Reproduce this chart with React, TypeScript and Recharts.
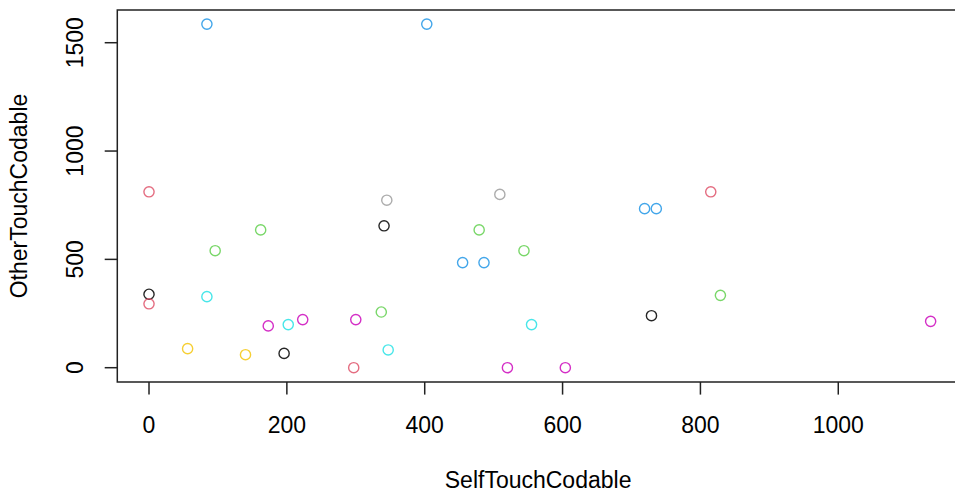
import React from "react";
import { ScatterChart, Scatter, XAxis, YAxis, ReferenceArea, Label } from "recharts";

// Points grouped by colour (R default palette)
const blueX = [84, 403, 455, 486, 719, 736];
const blueY = [1586, 1586, 485, 485, 734, 734];
const redX = [0, 815, 0, 297];
const redY = [812, 812, 295, 0];
const grayX = [345, 509];
const grayY = [773, 800];
const blackX = [341, 0, 196, 729];
const blackY = [655, 339, 66, 240];
const greenX = [162, 96, 337, 479, 544, 829];
const greenY = [636, 540, 257, 636, 540, 334];
const cyanX = [84, 202, 347, 555];
const cyanY = [328, 199, 82, 199];
const magentaX = [173, 223, 300, 1134, 520, 604];
const magentaY = [193, 222, 222, 214, 0, 0];
const yellowX = [56, 140];
const yellowY = [88, 60];

const xTicks = [0, 200, 400, 600, 800, 1000];
const yTicks = [0, 500, 1000, 1500];
const xDomain = [-46, 1175];
const yDomain = [-66, 1651];

const toPts = (xs: number[], ys: number[]) => xs.map((x, i) => ({ x, y: ys[i] }));

const series = [
  { name: "black", color: "#000000", data: toPts(blackX, blackY) },
  { name: "red", color: "#DF536B", data: toPts(redX, redY) },
  { name: "green", color: "#61D04F", data: toPts(greenX, greenY) },
  { name: "blue", color: "#2297E6", data: toPts(blueX, blueY) },
  { name: "cyan", color: "#28E2E5", data: toPts(cyanX, cyanY) },
  { name: "magenta", color: "#CD0BBC", data: toPts(magentaX, magentaY) },
  { name: "yellow", color: "#F5C710", data: toPts(yellowX, yellowY) },
  { name: "gray", color: "#9E9E9E", data: toPts(grayX, grayY) },
];

const FONT = "'Liberation Sans', Arial, Helvetica, sans-serif";
const FS = 23;

const XTick = (props: any) => {
  const { x, y, payload } = props;
  return (
    <text x={x} y={y} textAnchor="middle" fontFamily={FONT} fontSize={FS} fill="#000">
      {payload.value}
    </text>
  );
};

const YTick = (props: any) => {
  const { x, y, payload } = props;
  return (
    <text
      x={x}
      y={y}
      transform={`rotate(-90 ${x} ${y})`}
      textAnchor="middle"
      fontFamily={FONT}
      fontSize={FS}
      fill="#000"
    >
      {payload.value}
    </text>
  );
};

const XTitle = (props: any) => {
  const vb = props.viewBox;
  return (
    <text
      x={vb.x + vb.width / 2}
      y={vb.y + vb.height - 3.7}
      textAnchor="middle"
      fontFamily={FONT}
      fontSize={FS}
      fill="#000"
    >
      SelfTouchCodable
    </text>
  );
};

const YTitle = (props: any) => {
  const vb = props.viewBox;
  const x = vb.x + 27;
  const y = vb.y + vb.height / 2;
  return (
    <text
      x={x}
      y={y}
      transform={`rotate(-90 ${x} ${y})`}
      textAnchor="middle"
      fontFamily={FONT}
      fontSize={FS}
      fill="#000"
    >
      OtherTouchCodable
    </text>
  );
};

const makeShape = (color: string) => (props: any) => {
  const { cx, cy } = props;
  return <circle cx={cx} cy={cy} r={5.1} fill="none" stroke={color} strokeWidth={1.4} strokeOpacity={0.85} />;
};

export default function App() {
  return (
    <div
      style={{
        position: "fixed",
        left: 0,
        top: 0,
        width: 955,
        height: 492,
        overflow: "hidden",
        background: "#fff",
      }}
    >
      <ScatterChart
        width={970}
        height={492}
        margin={{ top: 10, right: 11.1, bottom: 0, left: 0 }}
      >
        <XAxis
          type="number"
          dataKey="x"
          domain={xDomain}
          allowDataOverflow
          ticks={xTicks}
          interval={0}
          height={110}
          axisLine={false}
          tickLine={{ stroke: "#222", strokeWidth: 1.5 }}
          tickSize={12.6}
          tickMargin={38.7}
          tick={<XTick />}
        >
          <Label content={<XTitle />} />
        </XAxis>
        <YAxis
          type="number"
          dataKey="y"
          domain={yDomain}
          allowDataOverflow
          ticks={yTicks}
          interval={0}
          width={117.3}
          axisLine={false}
          tickLine={{ stroke: "#222", strokeWidth: 1.5 }}
          tickSize={12.6}
          tickMargin={22}
          tick={<YTick />}
        >
          <Label content={<YTitle />} />
        </YAxis>
        <ReferenceArea
          x1={xDomain[0]}
          x2={xDomain[1]}
          y1={yDomain[0]}
          y2={yDomain[1]}
          fill="none"
          fillOpacity={0}
          stroke="#222"
          strokeWidth={1.5}
          ifOverflow="visible"
        />
        {series.map((s) => (
          <Scatter
            key={s.name}
            name={s.name}
            data={s.data}
            shape={makeShape(s.color)}
            isAnimationActive={false}
          />
        ))}
      </ScatterChart>
    </div>
  );
}
